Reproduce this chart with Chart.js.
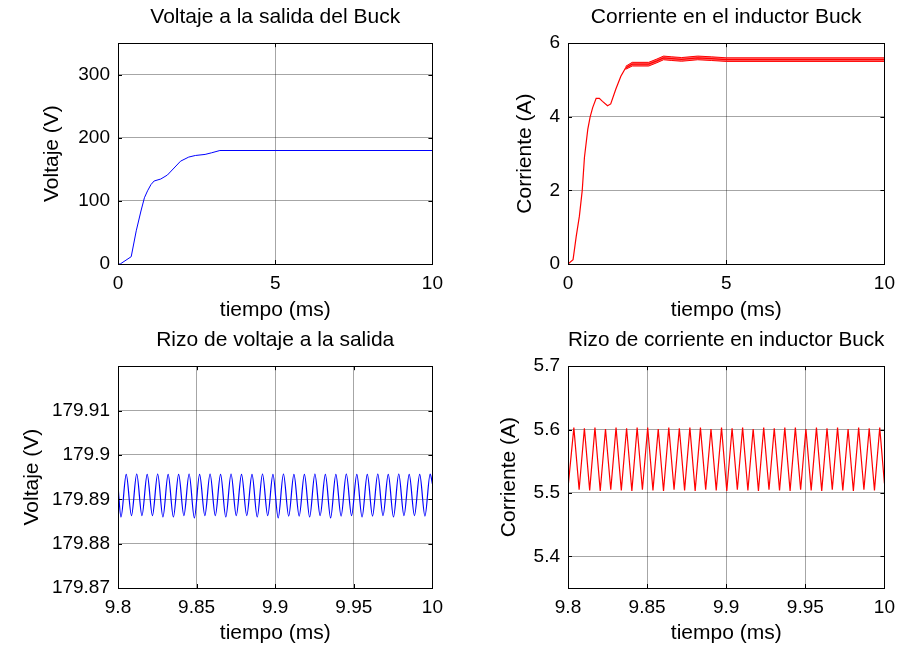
<!DOCTYPE html>
<html>
<head>
<meta charset="utf-8">
<title>Convertidor Buck</title>
<script src="https://cdn.jsdelivr.net/npm/chart.js@4.4.1/dist/chart.umd.min.js"></script>
<style>
  body { margin: 0; background: #fff; }
  #fig { position: relative; width: 903px; height: 647px; }
  canvas { position: absolute; }
</style>
</head>
<body>
<div id="fig">
  <canvas id="voltaje" width="451" height="323" style="left:0;top:0"></canvas>
  <canvas id="corriente" width="452" height="323" style="left:451px;top:0"></canvas>
  <canvas id="rizoVoltaje" width="451" height="324" style="left:0;top:323px"></canvas>
  <canvas id="rizoCorriente" width="452" height="324" style="left:451px;top:323px"></canvas>
</div>
<script>
// arranque: voltaje de salida (V) vs tiempo (ms)
const voltT = [0, 0.07, 0.42, 0.58, 0.73, 0.84, 0.94, 1.05, 1.15, 1.36, 1.57, 1.99, 2.25, 2.46, 2.77, 2.98, 3.24, 10];
const voltV = [0, 0, 11.6, 52.6, 84, 105, 116, 126, 131.6, 134.7, 141, 163, 169.5, 172, 173.7, 176.3, 179.9, 179.9];

// arranque: corriente en el inductor (A)
const currT = [0, 0.16, 0.26, 0.36, 0.45, 0.52, 0.625, 0.70, 0.78, 0.89, 0.99, 1.09, 1.25, 1.35, 1.51, 1.67, 1.82, 2.03, 2.55, 2.81, 3.02, 3.28, 3.59, 4.1, 4.53, 5, 10];
const currI = [0, 0.12, 0.75, 1.3, 2.0, 2.9, 3.66, 4.0, 4.25, 4.5, 4.5, 4.42, 4.3, 4.35, 4.75, 5.1, 5.33, 5.43, 5.43, 5.52, 5.6, 5.58, 5.56, 5.6, 5.58, 5.555, 5.555];
// envolvente del rizo de corriente durante el arranque
const bandT  = [1.82, 2.03, 2.55, 2.81, 3.02, 3.28, 3.59, 4.1, 4.53, 5, 10];
const bandHi = [5.37, 5.48, 5.48, 5.57, 5.65, 5.63, 5.61, 5.65, 5.63, 5.603, 5.603];
const bandLo = [5.29, 5.38, 5.38, 5.47, 5.55, 5.53, 5.51, 5.55, 5.53, 5.505, 5.505];

// rizo en estado estable, periodo de conmutacion (ms)
const Tsw = 0.2 / 30;

// voltaje: valles desde 9.8019 ms, crestas desde 9.8052 ms
const rippleVoltStart = 179.8930, rippleVoltEnd = 179.8935;
const rippleVoltLo = [179.8860, 179.8863, 179.8863, 179.8863, 179.8860, 179.8860, 179.8863, 179.8858, 179.8863, 179.8863,
                      179.8860, 179.8863, 179.8863, 179.8860, 179.8863, 179.8858, 179.8862, 179.8862, 179.8860, 179.8863,
                      179.8858, 179.8862, 179.8863, 179.8860, 179.8862, 179.8863, 179.8860, 179.8863, 179.8863, 179.8862];
const rippleVoltHi = [179.8956, 179.8957, 179.8956, 179.8957, 179.8956, 179.8956, 179.8957, 179.8956, 179.8957, 179.8956,
                      179.8957, 179.8956, 179.8956, 179.8957, 179.8956, 179.8957, 179.8956, 179.8956, 179.8957, 179.8956,
                      179.8956, 179.8957, 179.8956, 179.8956, 179.8957, 179.8956, 179.8957, 179.8956, 179.8956, 179.8957];

// corriente: crestas desde 9.8037 ms, valles desde 9.8070 ms
const rippleCurrStart = 5.508, rippleCurrEnd = 5.515;
const rippleCurrHi = [5.603, 5.602, 5.603, 5.601, 5.603, 5.602, 5.603, 5.603, 5.601, 5.603,
                      5.602, 5.603, 5.603, 5.601, 5.603, 5.602, 5.603, 5.601, 5.603, 5.602,
                      5.603, 5.603, 5.601, 5.603, 5.602, 5.603, 5.601, 5.603, 5.602, 5.603];
const rippleCurrLo = [5.505, 5.504, 5.503, 5.505, 5.504, 5.503, 5.505, 5.504, 5.503, 5.505,
                      5.504, 5.503, 5.505, 5.504, 5.503, 5.505, 5.504, 5.503, 5.505, 5.504,
                      5.503, 5.505, 5.504, 5.503, 5.505, 5.504, 5.503, 5.505, 5.504];

// marcas de los ejes
const startTicksX = [0, 5, 10];
const voltTicksY = [0, 100, 200, 300];
const currTicksY = [0, 2, 4, 6];
const rippleTicksX = [9.8, 9.85, 9.9, 9.95, 10];
const rippleVoltTicksY = [179.87, 179.88, 179.89, 179.9, 179.91];
const rippleCurrTicksY = [5.4, 5.5, 5.6, 5.7];

Chart.defaults.font.family = "'Liberation Sans', Arial, sans-serif";
Chart.defaults.color = '#000';

function xy(xs, ys) {
  return xs.map((x, i) => ({ x: x, y: ys[i] }));
}

// alterna valles y crestas sobre la base de tiempo de conmutacion
function zigzag(t0, first, second, startVal, endVal) {
  let pts = [{ x: 9.8, y: startVal }];
  for (let k = 0; k < first.length; k++) {
    pts.push({ x: t0 + k * Tsw, y: first[k] });
    if (k < second.length) pts.push({ x: t0 + Tsw / 2 + k * Tsw, y: second[k] });
  }
  pts.push({ x: 10, y: endVal });
  return pts;
}

function fmt(v) {
  return String(Number(v.toFixed(2)));
}

// recuadro negro y marcas hacia dentro, estilo MATLAB
const frame = {
  id: 'frame',
  afterDraw(chart) {
    const ctx = chart.ctx;
    const a = chart.chartArea;
    const len = 4;
    ctx.save();
    ctx.strokeStyle = '#000';
    ctx.lineWidth = 1;
    ctx.beginPath();
    chart.scales.x.ticks.forEach(t => {
      const px = Math.round(chart.scales.x.getPixelForValue(t.value)) + 0.5;
      ctx.moveTo(px, a.bottom); ctx.lineTo(px, a.bottom - len);
      ctx.moveTo(px, a.top); ctx.lineTo(px, a.top + len);
    });
    chart.scales.y.ticks.forEach(t => {
      const py = Math.round(chart.scales.y.getPixelForValue(t.value)) + 0.5;
      ctx.moveTo(a.left, py); ctx.lineTo(a.left + len, py);
      ctx.moveTo(a.right, py); ctx.lineTo(a.right - len, py);
    });
    ctx.stroke();
    ctx.strokeRect(Math.round(a.left) + 0.5, Math.round(a.top) + 0.5,
                   Math.round(a.right - a.left), Math.round(a.bottom - a.top));
    ctx.restore();
  }
};

function subplot(id, cfg) {
  return new Chart(document.getElementById(id), {
    type: 'line',
    data: { datasets: cfg.datasets },
    options: {
      responsive: false,
      animation: false,
      layout: { padding: { left: 0, right: cfg.padRight, top: 0, bottom: 0 } },
      elements: { point: { radius: 0 } },
      plugins: {
        legend: { display: false },
        tooltip: { enabled: false },
        title: {
          display: true,
          text: cfg.title,
          fullSize: false,
          font: { size: 21, weight: 'normal' },
          color: '#000',
          padding: { top: 5, bottom: 13 }
        }
      },
      scales: {
        x: {
          type: 'linear',
          min: cfg.xRange[0],
          max: cfg.xRange[1],
          afterBuildTicks: s => { s.ticks = cfg.xTicks.map(v => ({ value: v })); },
          afterFit: s => { s.height = 59; },
          grid: { color: 'rgba(0,0,0,0.35)', drawTicks: false },
          border: { display: false },
          ticks: { padding: 8, font: { size: 19 }, maxRotation: 0, callback: v => fmt(v) },
          title: { display: true, text: 'tiempo (ms)', font: { size: 21 }, padding: { top: 0, bottom: cfg.xTitlePad } }
        },
        y: {
          min: cfg.yRange[0],
          max: cfg.yRange[1],
          afterBuildTicks: s => { s.ticks = cfg.yTicks.map(v => ({ value: v })); },
          afterFit: s => { s.width = cfg.yWidth; },
          grid: { color: 'rgba(0,0,0,0.35)', drawTicks: false },
          border: { display: false },
          ticks: { padding: 8, font: { size: 19 }, callback: v => fmt(v) },
          title: { display: true, text: cfg.yTitle, font: { size: 21 }, padding: { top: cfg.yTitlePad, bottom: 0 } }
        }
      }
    },
    plugins: [frame]
  });
}

subplot('voltaje', {
  title: 'Voltaje a la salida del Buck',
  yTitle: 'Voltaje (V)',
  xRange: [0, 10], yRange: [0, 350],
  xTicks: startTicksX, yTicks: voltTicksY,
  yWidth: 118, padRight: 12, yTitlePad: 40, xTitlePad: 0,
  datasets: [
    { data: xy(voltT, voltV), borderColor: '#0000ff', borderWidth: 1, tension: 0 }
  ]
});

subplot('corriente', {
  title: 'Corriente en el inductor Buck',
  yTitle: 'Corriente (A)',
  xRange: [0, 10], yRange: [0, 6],
  xTicks: startTicksX, yTicks: currTicksY,
  yWidth: 117, padRight: 14, yTitlePad: 62, xTitlePad: 0,
  datasets: [
    { data: xy(currT, currI), borderColor: '#ff0000', borderWidth: 1.2, tension: 0 },
    { data: xy(bandT, bandHi), borderColor: '#ff0000', borderWidth: 1, backgroundColor: 'rgba(255,0,0,0.55)', fill: '+1', tension: 0 },
    { data: xy(bandT, bandLo), borderColor: '#ff0000', borderWidth: 1, tension: 0 }
  ]
});

subplot('rizoVoltaje', {
  title: 'Rizo de voltaje a la salida',
  yTitle: 'Voltaje (V)',
  xRange: [9.8, 10], yRange: [179.87, 179.92],
  xTicks: rippleTicksX, yTicks: rippleVoltTicksY,
  yWidth: 118, padRight: 12, yTitlePad: 20, xTitlePad: 1,
  datasets: [
    { data: zigzag(9.8019, rippleVoltLo, rippleVoltHi, rippleVoltStart, rippleVoltEnd),
      borderColor: '#0000ff', borderWidth: 1.2, cubicInterpolationMode: 'monotone' }
  ]
});

subplot('rizoCorriente', {
  title: 'Rizo de corriente en inductor Buck',
  yTitle: 'Corriente (A)',
  xRange: [9.8, 10], yRange: [5.35, 5.7],
  xTicks: rippleTicksX, yTicks: rippleCurrTicksY,
  yWidth: 117, padRight: 13, yTitlePad: 46, xTitlePad: 1,
  datasets: [
    { data: zigzag(9.8037, rippleCurrHi, rippleCurrLo, rippleCurrStart, rippleCurrEnd),
      borderColor: '#ff0000', borderWidth: 1.2, tension: 0 }
  ]
});
</script>
</body>
</html>
